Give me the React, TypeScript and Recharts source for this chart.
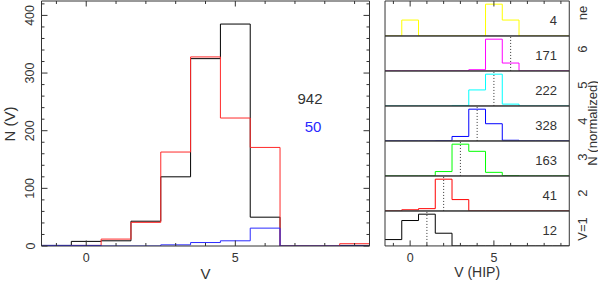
import { LineChart, Line, XAxis, YAxis, ReferenceLine } from 'recharts'

// histogram bins, centred on integer V
const V_BINS = [-1, 0, 1, 2, 3, 4, 5, 6, 7, 8, 9]

// left panel, N(V)
const N_ALL = [1, 8, 9, 43, 120, 325, 385, 50, 0, 0, 1]
const N_HIP = [0, 1, 12, 41, 163, 328, 222, 171, 0, 0, 4]
const N_SUB = [1, 1, 0, 0, 2, 6, 9, 31, 0, 0, 0]
const Y_TICKS = [0, 20, 40, 60, 80, 100, 120, 140, 160, 180, 200, 220, 240, 260, 280, 300, 320, 340, 360, 380, 400, 420]

// right panel, V(HIP) histogram of each V group (top to bottom)
const GROUPS = ['ne', '6', '5', '4', '3', '2', 'V=1']
const GROUP_N = [4, 171, 222, 328, 163, 41, 12]
const GROUP_V = [null, 6, 5, 4, 3, 2, 1]
const H_NE = [0, 1, 0, 0, 0, 0, 2, 1, 0, 0, 0]
const H_6 = [0, 0, 0, 0, 0, 5, 133, 33, 0, 0, 0]
const H_5 = [0, 0, 0, 0, 2, 71, 141, 8, 0, 0, 0]
const H_4 = [0, 0, 0, 1, 27, 192, 104, 4, 0, 0, 0]
const H_3 = [0, 0, 0, 11, 80, 62, 9, 1, 0, 0, 0]
const H_2 = [0, 1, 2, 28, 10, 0, 0, 0, 0, 0, 0]
const H_1 = [1, 4, 5, 2, 0, 0, 0, 0, 0, 0, 0]
const GROUP_HISTS = [H_NE, H_6, H_5, H_4, H_3, H_2, H_1]
const GROUP_COLORS = ['#ffff00', '#ff00ff', '#00ffff', '#0000ff', '#00ff00', '#ff0000', '#000000']

const INK = '#333'
const FONT = '"Liberation Sans", Arial, sans-serif'
const X_DOMAIN: [number, number] = [-1.5, 9.5]

// right panel geometry
const R_TOP = 1
const PH = 34.93

// bin edges for stepAfter lines
function edgeRows(series: Record<string, number[]>) {
  const n = V_BINS.length
  const rows = V_BINS.map((v, i) => {
    const r: any = { x: v - 0.5 }
    for (const k in series) r[k] = series[k][i]
    return r
  })
  const last: any = { x: V_BINS[n - 1] + 0.5 }
  for (const k in series) last[k] = series[k][n - 1]
  rows.push(last)
  return rows
}

// ticks drawn inward from the axis line (tickSize/tickMargin are 0, so x,y sit on the axis)
function makeXTick(dir: number, labels: boolean) {
  return function XTick(p: any) {
    const v = p.payload.value
    const major = v % 5 === 0
    return (
      <g>
        <line x1={p.x} x2={p.x} y1={p.y} y2={p.y + dir * (major ? 5.5 : 3)} stroke={INK} />
        {labels && major && (
          <text x={p.x} y={p.y + 12} textAnchor="middle" dominantBaseline="central"
            fontSize={12.5} fill={INK} fontFamily={FONT}>{v}</text>
        )}
      </g>
    )
  }
}

function makeYTick(dir: number, labels: boolean) {
  return function YTick(p: any) {
    const v = p.payload.value
    const major = v % 100 === 0
    const tx = p.x - 11
    return (
      <g>
        <line x1={p.x} x2={p.x + dir * (major ? 6 : 3)} y1={p.y} y2={p.y} stroke={INK} />
        {labels && major && (
          <text x={tx} y={p.y} transform={`rotate(-90 ${tx} ${p.y})`} textAnchor="middle"
            dominantBaseline="central" fontSize={12.5} fill={INK} fontFamily={FONT}>{v}</text>
        )}
      </g>
    )
  }
}

const BottomTick = makeXTick(-1, true)
const TopTick = makeXTick(1, false)
const LeftTick = makeYTick(1, true)
const RightTick = makeYTick(-1, false)

const leftRows = edgeRows({ all: N_ALL, hip: N_HIP, sub: N_SUB })

function LeftPanel() {
  // plot area: x 41.5..369.5, y 1..246
  return (
    <div style={{ position: 'absolute', left: 0, top: 0 }}>
      <LineChart width={372} height={281} data={leftRows}
        margin={{ top: 0, right: 1.5, bottom: 5, left: 1.5 }}>
        <XAxis dataKey="x" type="number" domain={X_DOMAIN} ticks={V_BINS} interval={0} height={30}
          tickSize={0} tickMargin={0} tickLine={false} tick={BottomTick} axisLine={{ stroke: INK }}
          allowDataOverflow
          label={{ value: 'V', position: 'insideTop', offset: 22, fill: INK, fontSize: 15, fontFamily: FONT }} />
        <XAxis xAxisId="top" orientation="top" dataKey="x" type="number" domain={X_DOMAIN} ticks={V_BINS}
          interval={0} height={1} tickSize={0} tickMargin={0} tickLine={false} tick={TopTick}
          axisLine={{ stroke: INK }} allowDataOverflow />
        <YAxis type="number" domain={[0, 425]} ticks={Y_TICKS} interval={0} width={40} tickSize={0}
          tickMargin={0} tickLine={false} tick={LeftTick} axisLine={{ stroke: INK }} allowDataOverflow />
        <YAxis yAxisId="right" orientation="right" type="number" domain={[0, 425]} ticks={Y_TICKS}
          interval={0} width={1} tickSize={0} tickMargin={0} tickLine={false} tick={RightTick}
          axisLine={{ stroke: INK }} allowDataOverflow />
        <Line dataKey="all" type="stepAfter" stroke="#000" strokeWidth={1} dot={false} activeDot={false} isAnimationActive={false} />
        <Line dataKey="hip" type="stepAfter" stroke="#ff2a2a" strokeWidth={1} dot={false} activeDot={false} isAnimationActive={false} />
        <Line dataKey="sub" type="stepAfter" stroke="#2a2aff" strokeWidth={1} dot={false} activeDot={false} isAnimationActive={false} />
      </LineChart>
    </div>
  )
}

function GroupPanel({ i }: { i: number }) {
  const h = GROUP_HISTS[i]
  const peak = Math.max(...h)
  const rows = edgeRows({ n: h.map(c => c / peak) })
  const first = i === 0
  const last = i === GROUPS.length - 1
  const top = R_TOP + i * PH
  const mean = GROUP_V[i]
  // plot area: x 385..569.3
  return (
    <div style={{ position: 'absolute', left: 384, top: top - 1 }}>
      <LineChart width={190} height={PH + 2 + (last ? 34 : 0)} data={rows}
        margin={{ top: 0, right: 3.7, bottom: 0, left: 0 }}>
        <XAxis dataKey="x" type="number" domain={X_DOMAIN} ticks={V_BINS} interval={0} height={last ? 35 : 1}
          tickSize={0} tickMargin={0} tickLine={false} tick={last ? BottomTick : false}
          axisLine={{ stroke: INK }} allowDataOverflow
          label={last ? { value: 'V (HIP)', position: 'insideTop', offset: 21, fill: INK, fontSize: 14, fontFamily: FONT } : undefined} />
        <XAxis xAxisId="top" orientation="top" dataKey="x" type="number" domain={X_DOMAIN} ticks={V_BINS}
          interval={0} height={1} tickSize={0} tickMargin={0} tickLine={false} tick={first ? TopTick : false}
          axisLine={{ stroke: INK }} allowDataOverflow />
        <YAxis type="number" domain={[0, 1.1]} width={1} tick={false} tickLine={false}
          axisLine={{ stroke: INK }} allowDataOverflow />
        <YAxis yAxisId="right" orientation="right" type="number" domain={[0, 1.1]} width={1} tick={false}
          tickLine={false} axisLine={{ stroke: INK }} allowDataOverflow />
        {mean !== null && (
          <ReferenceLine x={mean} stroke={INK} strokeDasharray="1 2" />
        )}
        <Line dataKey="n" type="stepAfter" stroke={GROUP_COLORS[i]} strokeWidth={1} dot={false}
          activeDot={false} isAnimationActive={false} />
      </LineChart>
    </div>
  )
}

export default function App() {
  const txt = { fill: INK, fontFamily: FONT }
  return (
    <div style={{ position: 'absolute', left: 0, top: 0, width: 598, height: 281, background: '#fff', overflow: 'hidden' }}>
      <LeftPanel />
      {GROUPS.map((_, i) => <GroupPanel key={i} i={i} />)}
      <svg width={598} height={281} style={{ position: 'absolute', left: 0, top: 0, pointerEvents: 'none' }}>
        <text x={9} y={124} transform="rotate(-90 9 124)" textAnchor="middle" dominantBaseline="central" fontSize={15} {...txt}>N (V)</text>
        <text x={310} y={98} textAnchor="middle" dominantBaseline="central" fontSize={15} {...txt}>942</text>
        <text x={313} y={126} textAnchor="middle" dominantBaseline="central" fontSize={15} fill="#2828ff" fontFamily={FONT}>50</text>
        {GROUPS.map((g, i) => {
          const cy = R_TOP + i * PH + PH / 2
          const ly = 13 + i * 36
          return (
            <g key={g}>
              <text x={557} y={cy + 2.5} textAnchor="end" dominantBaseline="central" fontSize={13} {...txt}>{GROUP_N[i]}</text>
              <text x={582} y={ly} transform={`rotate(-90 582 ${ly})`} textAnchor="middle" dominantBaseline="central" fontSize={13} {...txt}>{g}</text>
            </g>
          )
        })}
        <text x={592} y={123} transform="rotate(-90 592 123)" textAnchor="middle" dominantBaseline="central" fontSize={13} {...txt}>N (normalized)</text>
      </svg>
    </div>
  )
}
